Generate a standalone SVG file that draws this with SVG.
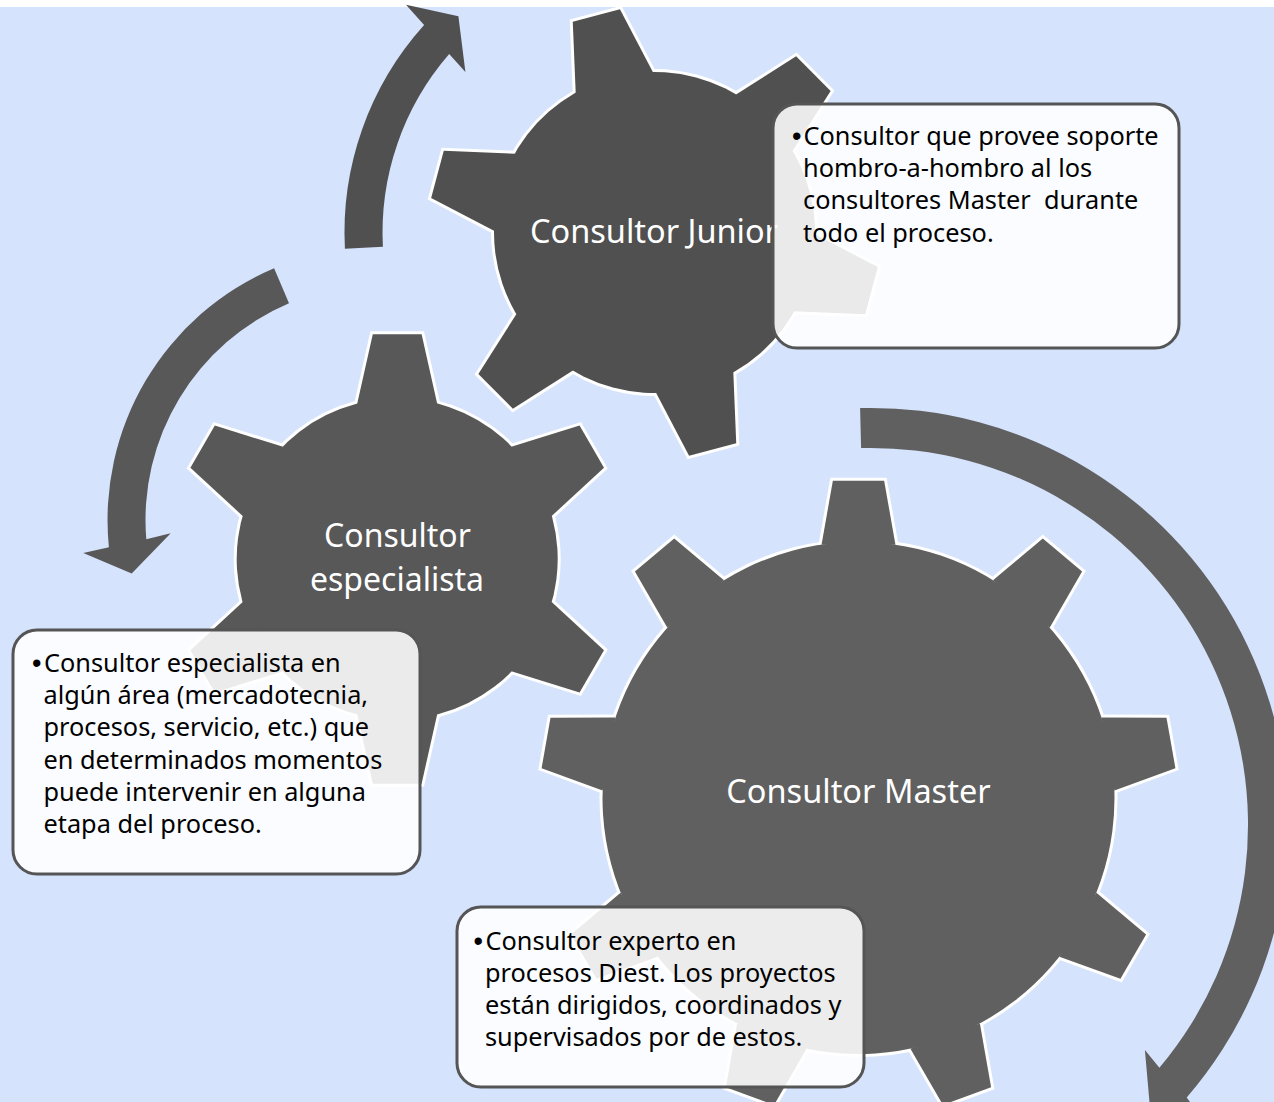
<svg xmlns="http://www.w3.org/2000/svg" width="1274" height="1102" viewBox="0 0 1274 1102">
<defs>
<style>
  .bg{fill:#D5E3FC}
  .outline{stroke:#FFFFFF;stroke-width:6;stroke-linejoin:miter}
  .solid{stroke:none}
  .g-j{fill:#505050}
  .g-e{fill:#585858}
  .g-m{fill:#606060}
  .label{font-family:"Noto Sans","DejaVu Sans",sans-serif;font-size:32.5px;fill:#FFFFFF;text-anchor:middle}
  .label2{font-family:"Noto Sans","DejaVu Sans",sans-serif;font-size:32px;fill:#FFFFFF;text-anchor:middle}
  .box{fill:#FFFFFF;fill-opacity:0.88;stroke:#555555;stroke-width:3}
  .txt{font-family:"Noto Sans","DejaVu Sans",sans-serif;font-size:25.3px;fill:#000000}
  .bul{font-family:"Liberation Sans",Arial,sans-serif;font-size:27px;fill:#000000}
</style>
<polygon id="stooth" points="154.9,-40.06 224.68,-24.41 224.68,24.41 154.9,40.06"/>
<g id="small-gear">
  <circle r="160.5"/>
  <use href="#stooth"/>
  <use href="#stooth" transform="rotate(60)"/>
  <use href="#stooth" transform="rotate(120)"/>
  <use href="#stooth" transform="rotate(180)"/>
  <use href="#stooth" transform="rotate(240)"/>
  <use href="#stooth" transform="rotate(300)"/>
</g>
<polygon id="mtooth" points="253.32,-36.96 317.27,-25.64 317.27,25.64 253.32,36.96"/>
<g id="big-gear">
  <circle r="256"/>
  <use href="#mtooth"/>
  <use href="#mtooth" transform="rotate(40)"/>
  <use href="#mtooth" transform="rotate(80)"/>
  <use href="#mtooth" transform="rotate(120)"/>
  <use href="#mtooth" transform="rotate(160)"/>
  <use href="#mtooth" transform="rotate(200)"/>
  <use href="#mtooth" transform="rotate(240)"/>
  <use href="#mtooth" transform="rotate(280)"/>
  <use href="#mtooth" transform="rotate(320)"/>
</g>
</defs>

<rect x="0" y="0" width="1274" height="1102" fill="#FFFFFF"/>
<rect class="bg" x="0" y="7" width="1274" height="1095"/>

<g id="connectors">
  <path class="g-j" d="M344.9,248.7 A310,310 0 0,1 424.1,25.1 L406.0,4.8 L458.4,16.2 L465.4,72.1 L449.2,54.1 A272,272 0 0,0 382.9,246.7 Z"/>
  <path class="g-e" d="M274.1,268.2 A273.5,273.5 0 0,0 108.9,547.2 L83.3,552.9 L131.7,573.5 L170.7,533.2 L146.3,539.3 A235.5,235.5 0 0,1 289.0,303.2 Z"/>
  <path class="g-m" d="M860.1,408.1 A417,417 0 0,1 1186.7,1097.5 L1203.0,1119.8 L1150.0,1108.0 L1144.9,1050.0 L1159.4,1067.8 A377,377 0 0,0 861.1,448.1 Z"/>
</g>

<g id="gear-junior">
  <g transform="translate(654.5,232.5) rotate(15)">
    <use href="#small-gear" class="g-j outline"/>
    <use href="#small-gear" class="g-j solid"/>
  </g>
  <text class="label" x="654" y="243">Consultor Junior</text>
</g>

<g id="gear-especialista">
  <g transform="translate(397.2,559) rotate(30)">
    <use href="#small-gear" class="g-e outline"/>
    <use href="#small-gear" class="g-e solid"/>
  </g>
  <text class="label2" x="397.5" y="547">Consultor</text>
  <text class="label2" x="397" y="591">especialista</text>
</g>

<g id="gear-master">
  <g transform="translate(858.5,798) rotate(30)">
    <use href="#big-gear" class="g-m outline"/>
    <use href="#big-gear" class="g-m solid"/>
  </g>
  <text class="label" x="858.5" y="803">Consultor Master</text>
</g>

<g id="callout-junior">
  <rect class="box" x="773" y="104" width="406" height="244" rx="24" ry="24"/>
  <text class="bul" x="792" y="145">•</text>
  <text class="txt" x="803.5" y="145">Consultor que provee soporte</text>
  <text class="txt" x="803" y="177.2">hombro-a-hombro al los</text>
  <text class="txt" x="803" y="209.4" xml:space="preserve">consultores Master  durante</text>
  <text class="txt" x="803" y="241.6">todo el proceso.</text>
</g>

<g id="callout-especialista">
  <rect class="box" x="13" y="630" width="407" height="244" rx="24" ry="24"/>
  <text class="bul" x="32" y="671.7">•</text>
  <text class="txt" x="44" y="671.7">Consultor especialista en</text>
  <text class="txt" x="43.5" y="704">algún área (mercadotecnia,</text>
  <text class="txt" x="43.5" y="736.3">procesos, servicio, etc.) que</text>
  <text class="txt" x="43.5" y="768.6">en determinados momentos</text>
  <text class="txt" x="43.5" y="800.9">puede intervenir en alguna</text>
  <text class="txt" x="43.5" y="833.2">etapa del proceso.</text>
</g>

<g id="callout-master">
  <rect class="box" x="457" y="907" width="407" height="180" rx="24" ry="24"/>
  <text class="bul" x="473.5" y="949.5">•</text>
  <text class="txt" x="485.5" y="949.5">Consultor experto en</text>
  <text class="txt" x="485" y="981.8">procesos Diest. Los proyectos</text>
  <text class="txt" x="485" y="1014.1">están dirigidos, coordinados y</text>
  <text class="txt" x="485" y="1046.4">supervisados por de estos.</text>
</g>
</svg>
